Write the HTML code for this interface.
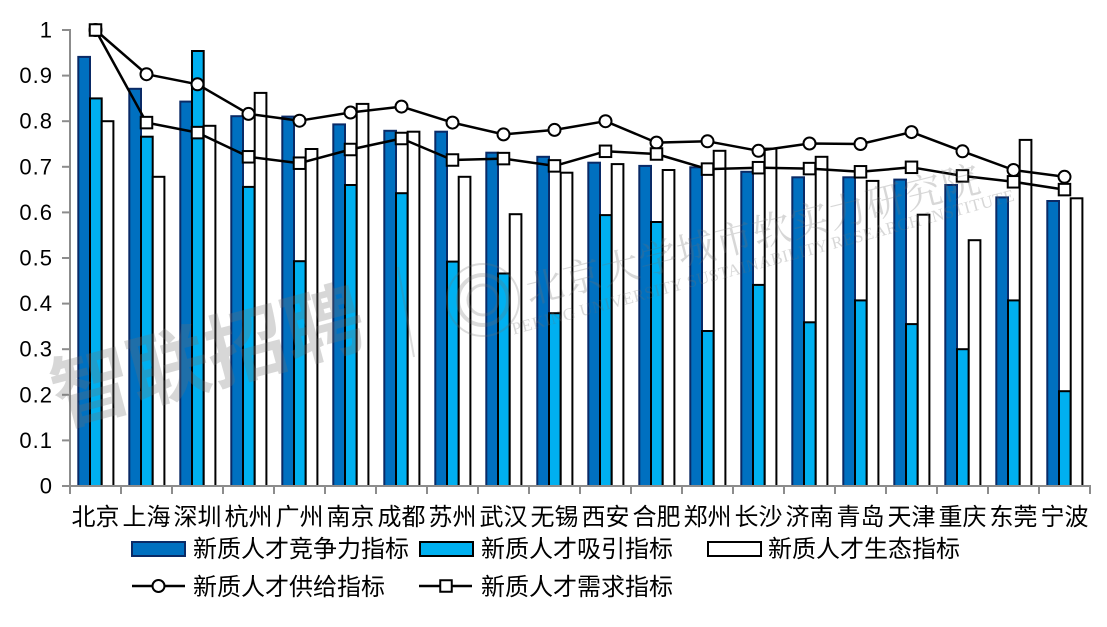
<!DOCTYPE html>
<html>
<head>
<meta charset="utf-8">
<style>
html,body{margin:0;padding:0;background:#fff;}
svg{display:block;}
.yl{font-family:"Liberation Sans","Noto Sans CJK SC",sans-serif;font-size:22px;letter-spacing:1px;fill:#000;}
.xl{font-family:"Liberation Sans","Noto Sans CJK SC",sans-serif;font-size:24px;fill:#000;}
.lg{font-family:"Liberation Sans","Noto Sans CJK SC",sans-serif;font-size:24px;fill:#000;}
.d{fill:#0070C0;stroke:#0A2A66;stroke-width:2;}
.c{fill:#00B0F0;stroke:#000;stroke-width:2;}
.w{fill:#fff;stroke:#000;stroke-width:2;}
.ax{stroke:#8C8C8C;stroke-width:2;fill:none;}
.ln{fill:none;stroke:#000;stroke-width:2.5;stroke-linejoin:round;}
.mk{fill:#fff;stroke:#000;stroke-width:2;}
</style>
</head>
<body>
<svg width="1107" height="627" viewBox="0 0 1107 627" xmlns="http://www.w3.org/2000/svg">
<rect width="1107" height="627" fill="#fff"/>

<!-- dark bars -->
<g class="d">
<rect x="78.3" y="56.9" width="11.7" height="429.1"/>
<rect x="129.3" y="88.8" width="11.7" height="397.2"/>
<rect x="180.3" y="101.6" width="11.7" height="384.4"/>
<rect x="231.3" y="116.2" width="11.7" height="369.8"/>
<rect x="282.3" y="116.6" width="11.7" height="369.4"/>
<rect x="333.3" y="124.4" width="11.7" height="361.6"/>
<rect x="384.3" y="130.8" width="11.7" height="355.2"/>
<rect x="435.3" y="131.7" width="11.7" height="354.3"/>
<rect x="486.3" y="152.7" width="11.7" height="333.3"/>
<rect x="537.3" y="156.8" width="11.7" height="329.2"/>
<rect x="588.3" y="162.7" width="11.7" height="323.3"/>
<rect x="639.3" y="165.9" width="11.7" height="320.1"/>
<rect x="690.3" y="167.3" width="11.7" height="318.7"/>
<rect x="741.3" y="171.8" width="11.7" height="314.2"/>
<rect x="792.3" y="177.3" width="11.7" height="308.7"/>
<rect x="843.3" y="177.3" width="11.7" height="308.7"/>
<rect x="894.3" y="179.6" width="11.7" height="306.4"/>
<rect x="945.3" y="185.0" width="11.7" height="301.0"/>
<rect x="996.3" y="197.4" width="11.7" height="288.6"/>
<rect x="1047.3" y="201.0" width="11.7" height="285.0"/>
</g>

<!-- cyan bars -->
<g class="c">
<rect x="90" y="98.4" width="11.7" height="387.6"/>
<rect x="141" y="136.7" width="11.7" height="349.3"/>
<rect x="192" y="51.0" width="11.7" height="435.0"/>
<rect x="243" y="186.9" width="11.7" height="299.1"/>
<rect x="294" y="261.2" width="11.7" height="224.8"/>
<rect x="345" y="185.0" width="11.7" height="301.0"/>
<rect x="396" y="193.2" width="11.7" height="292.8"/>
<rect x="447" y="261.6" width="11.7" height="224.4"/>
<rect x="498" y="273.5" width="11.7" height="212.5"/>
<rect x="549" y="313.2" width="11.7" height="172.8"/>
<rect x="600" y="215.1" width="11.7" height="270.9"/>
<rect x="651" y="222.0" width="11.7" height="264.0"/>
<rect x="702" y="331.0" width="11.7" height="155.0"/>
<rect x="753" y="284.9" width="11.7" height="201.1"/>
<rect x="804" y="322.3" width="11.7" height="163.7"/>
<rect x="855" y="300.4" width="11.7" height="185.6"/>
<rect x="906" y="324.1" width="11.7" height="161.9"/>
<rect x="957" y="349.2" width="11.7" height="136.8"/>
<rect x="1008" y="300.4" width="11.7" height="185.6"/>
<rect x="1059" y="391.2" width="11.7" height="94.8"/>
</g>

<!-- white bars -->
<g class="w">
<rect x="101.7" y="121.2" width="11.7" height="364.8"/>
<rect x="152.7" y="176.8" width="11.7" height="309.2"/>
<rect x="203.7" y="125.8" width="11.7" height="360.2"/>
<rect x="254.7" y="92.9" width="11.7" height="393.1"/>
<rect x="305.7" y="149.0" width="11.7" height="337.0"/>
<rect x="356.7" y="103.9" width="11.7" height="382.1"/>
<rect x="407.7" y="131.7" width="11.7" height="354.3"/>
<rect x="458.7" y="176.8" width="11.7" height="309.2"/>
<rect x="509.7" y="214.2" width="11.7" height="271.8"/>
<rect x="560.7" y="172.7" width="11.7" height="313.3"/>
<rect x="611.7" y="164.1" width="11.7" height="321.9"/>
<rect x="662.7" y="170.0" width="11.7" height="316.0"/>
<rect x="713.7" y="150.8" width="11.7" height="335.2"/>
<rect x="764.7" y="148.6" width="11.7" height="337.4"/>
<rect x="815.7" y="156.8" width="11.7" height="329.2"/>
<rect x="866.7" y="180.9" width="11.7" height="305.1"/>
<rect x="917.7" y="214.7" width="11.7" height="271.3"/>
<rect x="968.7" y="240.2" width="11.7" height="245.8"/>
<rect x="1019.7" y="139.9" width="11.7" height="346.1"/>
<rect x="1070.7" y="198.3" width="11.7" height="287.7"/>
</g>

<!-- axes -->
<g class="ax">
<line x1="70" y1="29" x2="70" y2="487"/>
<line x1="69" y1="486" x2="1091" y2="486"/>
<line x1="62" y1="30" x2="70" y2="30"/>
<line x1="62" y1="75.6" x2="70" y2="75.6"/>
<line x1="62" y1="121.2" x2="70" y2="121.2"/>
<line x1="62" y1="166.8" x2="70" y2="166.8"/>
<line x1="62" y1="212.4" x2="70" y2="212.4"/>
<line x1="62" y1="258" x2="70" y2="258"/>
<line x1="62" y1="303.6" x2="70" y2="303.6"/>
<line x1="62" y1="349.2" x2="70" y2="349.2"/>
<line x1="62" y1="394.8" x2="70" y2="394.8"/>
<line x1="62" y1="440.4" x2="70" y2="440.4"/>
<line x1="62" y1="486" x2="70" y2="486"/>
<line x1="70" y1="486" x2="70" y2="494"/>
<line x1="121" y1="486" x2="121" y2="494"/>
<line x1="172" y1="486" x2="172" y2="494"/>
<line x1="223" y1="486" x2="223" y2="494"/>
<line x1="274" y1="486" x2="274" y2="494"/>
<line x1="325" y1="486" x2="325" y2="494"/>
<line x1="376" y1="486" x2="376" y2="494"/>
<line x1="427" y1="486" x2="427" y2="494"/>
<line x1="478" y1="486" x2="478" y2="494"/>
<line x1="529" y1="486" x2="529" y2="494"/>
<line x1="580" y1="486" x2="580" y2="494"/>
<line x1="631" y1="486" x2="631" y2="494"/>
<line x1="682" y1="486" x2="682" y2="494"/>
<line x1="733" y1="486" x2="733" y2="494"/>
<line x1="784" y1="486" x2="784" y2="494"/>
<line x1="835" y1="486" x2="835" y2="494"/>
<line x1="886" y1="486" x2="886" y2="494"/>
<line x1="937" y1="486" x2="937" y2="494"/>
<line x1="988" y1="486" x2="988" y2="494"/>
<line x1="1039" y1="486" x2="1039" y2="494"/>
<line x1="1090" y1="486" x2="1090" y2="494"/>
</g>

<!-- supply line (circles) -->
<polyline class="ln" points="95.5,30 146.5,74.2 197.5,84.3 248.5,113.9 299.5,120.7 350.5,112.5 401.5,106.6 452.5,122.6 503.5,134.4 554.5,129.9 605.5,121.2 656.5,142.6 707.5,141.3 758.5,150.8 809.5,143.5 860.5,144 911.5,132.1 962.5,151.3 1013.5,170 1064.5,176.8"/>
<g class="mk">
<circle cx="95.5" cy="30" r="6"/>
<circle cx="146.5" cy="74.2" r="6"/>
<circle cx="197.5" cy="84.3" r="6"/>
<circle cx="248.5" cy="113.9" r="6"/>
<circle cx="299.5" cy="120.7" r="6"/>
<circle cx="350.5" cy="112.5" r="6"/>
<circle cx="401.5" cy="106.6" r="6"/>
<circle cx="452.5" cy="122.6" r="6"/>
<circle cx="503.5" cy="134.4" r="6"/>
<circle cx="554.5" cy="129.9" r="6"/>
<circle cx="605.5" cy="121.2" r="6"/>
<circle cx="656.5" cy="142.6" r="6"/>
<circle cx="707.5" cy="141.3" r="6"/>
<circle cx="758.5" cy="150.8" r="6"/>
<circle cx="809.5" cy="143.5" r="6"/>
<circle cx="860.5" cy="144" r="6"/>
<circle cx="911.5" cy="132.1" r="6"/>
<circle cx="962.5" cy="151.3" r="6"/>
<circle cx="1013.5" cy="170" r="6"/>
<circle cx="1064.5" cy="176.8" r="6"/>
</g>

<!-- demand line (squares) -->
<polyline class="ln" points="95.5,30 146.5,122.6 197.5,132.6 248.5,156.8 299.5,163.2 350.5,149.5 401.5,138.5 452.5,160 503.5,158.6 554.5,165.9 605.5,151.3 656.5,154 707.5,169.1 758.5,167.7 809.5,168.6 860.5,171.8 911.5,167.3 962.5,175.9 1013.5,181.8 1064.5,189.6"/>
<g class="mk">
<rect x="89.75" y="24.25" width="11.5" height="11.5"/>
<rect x="140.75" y="116.85" width="11.5" height="11.5"/>
<rect x="191.75" y="126.85" width="11.5" height="11.5"/>
<rect x="242.75" y="151.05" width="11.5" height="11.5"/>
<rect x="293.75" y="157.45" width="11.5" height="11.5"/>
<rect x="344.75" y="143.75" width="11.5" height="11.5"/>
<rect x="395.75" y="132.75" width="11.5" height="11.5"/>
<rect x="446.75" y="154.25" width="11.5" height="11.5"/>
<rect x="497.75" y="152.85" width="11.5" height="11.5"/>
<rect x="548.75" y="160.15" width="11.5" height="11.5"/>
<rect x="599.75" y="145.55" width="11.5" height="11.5"/>
<rect x="650.75" y="148.25" width="11.5" height="11.5"/>
<rect x="701.75" y="163.35" width="11.5" height="11.5"/>
<rect x="752.75" y="161.95" width="11.5" height="11.5"/>
<rect x="803.75" y="162.85" width="11.5" height="11.5"/>
<rect x="854.75" y="166.05" width="11.5" height="11.5"/>
<rect x="905.75" y="161.55" width="11.5" height="11.5"/>
<rect x="956.75" y="170.15" width="11.5" height="11.5"/>
<rect x="1007.75" y="176.05" width="11.5" height="11.5"/>
<rect x="1058.75" y="183.85" width="11.5" height="11.5"/>
</g>

<!-- watermarks -->
<g fill="rgba(110,110,110,0.28)" stroke="none">
<text x="208" y="385" transform="rotate(-15 208 358)" text-anchor="middle" font-family="'Noto Sans CJK SC',sans-serif" font-weight="bold" font-size="80">智联招聘</text>
<text x="752" y="248" transform="rotate(-14 752 230)" text-anchor="middle" font-family="'Noto Serif CJK SC',serif" font-size="38" letter-spacing="1">北京大学城市软实力研究院</text>
<text x="760" y="268" transform="rotate(-15 760 250)" text-anchor="middle" font-family="'Liberation Serif',serif" font-size="17" letter-spacing="0.5">PEKING UNIVERSITY SUSTAINABILITY RESEARCH INSTITUTE</text>
</g>
<g fill="none" stroke="rgba(110,110,110,0.25)">
<line x1="398" y1="267" x2="414" y2="357" stroke-width="2"/>
<circle cx="483" cy="300" r="36" stroke-width="2"/>
<circle cx="483" cy="300" r="25" stroke-width="4"/>
<circle cx="483" cy="300" r="15" stroke-width="3"/>
</g>

<!-- y labels -->
<g class="yl" text-anchor="end">
<text x="53" y="37.5">1</text>
<text x="53" y="83.1">0.9</text>
<text x="53" y="128.7">0.8</text>
<text x="53" y="174.3">0.7</text>
<text x="53" y="219.9">0.6</text>
<text x="53" y="265.5">0.5</text>
<text x="53" y="311.1">0.4</text>
<text x="53" y="356.7">0.3</text>
<text x="53" y="402.3">0.2</text>
<text x="53" y="447.9">0.1</text>
<text x="53" y="493.5">0</text>
</g>

<!-- x labels -->
<g class="xl" text-anchor="middle">
<text x="95.5" y="525">北京</text>
<text x="146.5" y="525">上海</text>
<text x="197.5" y="525">深圳</text>
<text x="248.5" y="525">杭州</text>
<text x="299.5" y="525">广州</text>
<text x="350.5" y="525">南京</text>
<text x="401.5" y="525">成都</text>
<text x="452.5" y="525">苏州</text>
<text x="503.5" y="525">武汉</text>
<text x="554.5" y="525">无锡</text>
<text x="605.5" y="525">西安</text>
<text x="656.5" y="525">合肥</text>
<text x="707.5" y="525">郑州</text>
<text x="758.5" y="525">长沙</text>
<text x="809.5" y="525">济南</text>
<text x="860.5" y="525">青岛</text>
<text x="911.5" y="525">天津</text>
<text x="962.5" y="525">重庆</text>
<text x="1013.5" y="525">东莞</text>
<text x="1064.5" y="525">宁波</text>
</g>

<!-- legend -->
<rect x="132" y="542" width="53" height="14" fill="#0070C0" stroke="#0A2A66" stroke-width="2"/>
<text class="lg" x="193" y="557">新质人才竞争力指标</text>
<rect x="420" y="542" width="53" height="14" fill="#00B0F0" stroke="#000" stroke-width="2"/>
<text class="lg" x="481" y="557">新质人才吸引指标</text>
<rect x="708" y="542" width="53" height="14" fill="#fff" stroke="#000" stroke-width="2"/>
<text class="lg" x="768" y="557">新质人才生态指标</text>

<line x1="132" y1="586" x2="185" y2="586" stroke="#000" stroke-width="2.5"/>
<circle cx="158.5" cy="586" r="6" fill="#fff" stroke="#000" stroke-width="2"/>
<text class="lg" x="193" y="595">新质人才供给指标</text>
<line x1="419" y1="586" x2="472" y2="586" stroke="#000" stroke-width="2.5"/>
<rect x="440.25" y="580.25" width="11.5" height="11.5" fill="#fff" stroke="#000" stroke-width="2"/>
<text class="lg" x="481" y="595">新质人才需求指标</text>
</svg>
</body>
</html>
